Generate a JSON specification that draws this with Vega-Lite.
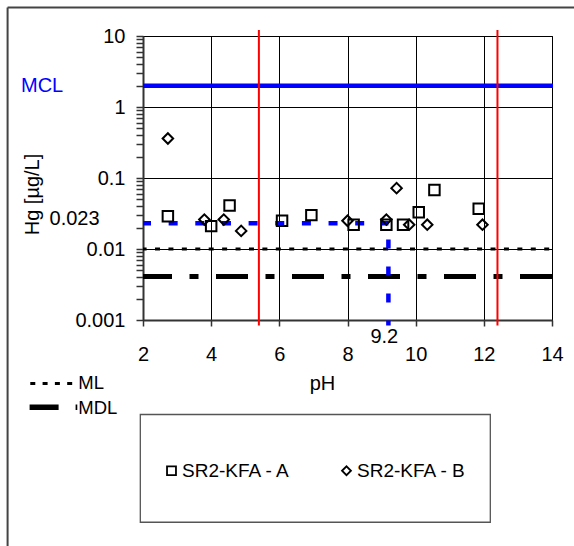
{
  "$schema": "https://vega.github.io/schema/vega-lite/v6.json",
  "width": 409,
  "height": 284,
  "autosize": {"type": "none"},
  "padding": {"left": 143, "top": 36, "right": 22, "bottom": 226},
  "background": "white",
  "config": {
    "font": "Liberation Sans",
    "view": {"stroke": "black", "strokeWidth": 1},
    "axis": {"labelFont": "Liberation Sans", "titleFont": "Liberation Sans"},
    "legend": {"labelFont": "Liberation Sans"}
  },
  "datasets": {
    "hg": [
      {"series": "SR2-KFA - A", "ph": 2.73, "hg": 0.029},
      {"series": "SR2-KFA - A", "ph": 4.0, "hg": 0.021},
      {"series": "SR2-KFA - A", "ph": 4.54, "hg": 0.041},
      {"series": "SR2-KFA - A", "ph": 6.08, "hg": 0.025},
      {"series": "SR2-KFA - A", "ph": 6.94, "hg": 0.030},
      {"series": "SR2-KFA - A", "ph": 8.18, "hg": 0.022},
      {"series": "SR2-KFA - A", "ph": 9.14, "hg": 0.022},
      {"series": "SR2-KFA - A", "ph": 9.63, "hg": 0.022},
      {"series": "SR2-KFA - A", "ph": 10.09, "hg": 0.033},
      {"series": "SR2-KFA - A", "ph": 10.55, "hg": 0.068},
      {"series": "SR2-KFA - A", "ph": 11.85, "hg": 0.037},
      {"series": "SR2-KFA - B", "ph": 2.73, "hg": 0.36},
      {"series": "SR2-KFA - B", "ph": 3.8, "hg": 0.026},
      {"series": "SR2-KFA - B", "ph": 4.37, "hg": 0.026},
      {"series": "SR2-KFA - B", "ph": 4.88, "hg": 0.018},
      {"series": "SR2-KFA - B", "ph": 8.0, "hg": 0.025},
      {"series": "SR2-KFA - B", "ph": 9.14, "hg": 0.026},
      {"series": "SR2-KFA - B", "ph": 9.44, "hg": 0.072},
      {"series": "SR2-KFA - B", "ph": 9.81, "hg": 0.022},
      {"series": "SR2-KFA - B", "ph": 10.34, "hg": 0.022},
      {"series": "SR2-KFA - B", "ph": 11.96, "hg": 0.022}
    ],
    "redlines": [{"ph": 5.4}, {"ph": 12.4}],
    "one": [{}]
  },
  "layer": [
    {
      "data": {"name": "one"},
      "mark": {"type": "rule", "color": "#444444", "strokeWidth": 2},
      "encoding": {
        "x": {"datum": -1.973, "type": "quantitative"},
        "x2": {"datum": 15},
        "y": {"datum": 25.3, "type": "quantitative"}
      }
    },
    {
      "data": {"name": "one"},
      "mark": {"type": "rule", "color": "#444444", "strokeWidth": 2},
      "encoding": {
        "x": {"datum": -1.973, "type": "quantitative"},
        "y": {"datum": 25.3, "type": "quantitative"},
        "y2": {"datum": 1e-7}
      }
    },
    {
      "data": {"name": "one"},
      "mark": {"type": "rect", "fill": null, "fillOpacity": 0, "stroke": "#555555", "strokeWidth": 1.3},
      "encoding": {
        "x": {"datum": 1.921, "type": "quantitative"},
        "x2": {"datum": 12.19},
        "y": {"datum": 0.0000467, "type": "quantitative"},
        "y2": {"datum": 0.000001416}
      }
    },
    {
      "data": {"name": "one"},
      "mark": {"type": "rule", "color": "#0000ff", "strokeWidth": 4.5},
      "encoding": {
        "x": {"datum": 2, "type": "quantitative"},
        "x2": {"datum": 14.03},
        "y": {"datum": 2, "type": "quantitative"}
      }
    },
    {
      "data": {"name": "one"},
      "mark": {"type": "rule", "color": "black", "strokeWidth": 3, "strokeDash": [5, 8.42], "strokeDashOffset": 1.4},
      "encoding": {
        "x": {"datum": 2, "type": "quantitative"},
        "x2": {"datum": 13.97},
        "y": {"datum": 0.01, "type": "quantitative"}
      }
    },
    {
      "data": {"name": "one"},
      "mark": {"type": "rule", "color": "black", "strokeWidth": 5, "strokeDash": [32, 17.5, 9, 17.5], "strokeDashOffset": 3},
      "encoding": {
        "x": {"datum": 2, "type": "quantitative"},
        "x2": {"datum": 14.03},
        "y": {"datum": 0.0041, "type": "quantitative"}
      }
    },
    {
      "data": {"name": "one"},
      "mark": {"type": "rule", "color": "#0000ff", "strokeWidth": 4.5, "strokeDash": [9, 17.65], "strokeDashOffset": 1},
      "encoding": {
        "x": {"datum": 2, "type": "quantitative"},
        "x2": {"datum": 9.2},
        "y": {"datum": 0.023, "type": "quantitative"}
      }
    },
    {
      "data": {"name": "one"},
      "mark": {"type": "rule", "color": "#0000ff", "strokeWidth": 4.5, "strokeDash": [9, 18], "strokeDashOffset": 10.8},
      "encoding": {
        "x": {"datum": 9.2, "type": "quantitative"},
        "y": {"datum": 0.023, "type": "quantitative"},
        "y2": {"datum": 0.00084}
      }
    },
    {
      "data": {"name": "redlines"},
      "mark": {"type": "rule", "color": "#ff0000", "strokeWidth": 2},
      "encoding": {
        "x": {"field": "ph", "type": "quantitative"},
        "y": {"datum": 12.1, "type": "quantitative"},
        "y2": {"datum": 0.00084}
      }
    },
    {
      "data": {"name": "one"},
      "mark": {"type": "rule", "color": "black", "strokeWidth": 3, "strokeDash": [5, 7.3]},
      "encoding": {
        "x": {"datum": -1.307, "type": "quantitative"},
        "x2": {"datum": -0.074},
        "y": {"datum": 0.0001275, "type": "quantitative"}
      }
    },
    {
      "data": {"name": "one"},
      "mark": {"type": "rule", "color": "black", "strokeWidth": 5.5, "strokeDash": [29, 17, 9, 17]},
      "encoding": {
        "x": {"datum": -1.327, "type": "quantitative"},
        "x2": {"datum": 0.072},
        "y": {"datum": 0.0000592, "type": "quantitative"}
      }
    },
    {
      "data": {"values": [
        {"label": "ML", "px": 0.102, "py": 0.000105},
        {"label": "MDL", "px": 0.102, "py": 0.0000467}
      ]},
      "mark": {"type": "text", "align": "left", "baseline": "alphabetic", "fontSize": 18.5, "color": "black"},
      "encoding": {
        "x": {"field": "px", "type": "quantitative"},
        "y": {"field": "py", "type": "quantitative"},
        "text": {"field": "label"}
      }
    },
    {
      "data": {"name": "one"},
      "mark": {"type": "text", "align": "left", "baseline": "alphabetic", "fontSize": 20, "color": "#0000ff", "dy": 6, "text": "MCL"},
      "encoding": {
        "x": {"datum": -1.58, "type": "quantitative"},
        "y": {"datum": 2, "type": "quantitative"}
      }
    },
    {
      "data": {"name": "one"},
      "mark": {"type": "text", "align": "right", "baseline": "alphabetic", "fontSize": 20, "color": "black", "dy": 2, "text": "0.023"},
      "encoding": {
        "x": {"datum": 0.727, "type": "quantitative"},
        "y": {"datum": 0.023, "type": "quantitative"}
      }
    },
    {
      "data": {"name": "one"},
      "mark": {"type": "text", "align": "center", "baseline": "alphabetic", "fontSize": 20, "color": "black", "text": "9.2"},
      "encoding": {
        "x": {"datum": 9.08, "type": "quantitative"},
        "y": {"datum": 0.000476, "type": "quantitative"}
      }
    },
    {
      "data": {"name": "hg"},
      "mark": {"type": "point", "filled": false, "color": "black", "strokeWidth": 2, "size": 110, "opacity": 1},
      "encoding": {
        "x": {
          "field": "ph",
          "type": "quantitative",
          "scale": {"domain": [2, 14], "nice": false, "zero": false},
          "axis": {
            "values": [2, 2.5, 3, 3.5, 4, 4.5, 5, 5.5, 6, 6.5, 7, 7.5, 8, 8.5, 9, 9.5, 10, 10.5, 11, 11.5, 12, 12.5, 13, 13.5, 14],
            "labelExpr": "datum.value % 2 == 0 ? format(datum.value, 'd') : ''",
            "grid": true,
            "gridColor": "black",
            "gridWidth": 1,
            "gridOpacity": {"condition": {"test": "datum.value % 2 == 0", "value": 1}, "value": 0},
            "tickSize": 6,
            "tickColor": "#333333",
            "tickWidth": 1.5,
            "encode": {"ticks": {"update": {"y2": {"signal": "datum.value % 2 == 0 ? 6 : -5"}}}},
            "domainColor": "#333333",
            "domainWidth": 2,
            "labelFontSize": 20,
            "labelColor": "black",
            "labelPadding": 18,
            "labelFlush": false,
            "labelOverlap": false,
            "title": "pH",
            "titleFontSize": 20,
            "titleFontWeight": "normal",
            "titleColor": "black",
            "titleX": 179,
            "titleY": 69,
            "titleAlign": "center",
            "titleBaseline": "alphabetic"
          }
        },
        "y": {
          "field": "hg",
          "type": "quantitative",
          "scale": {"type": "log", "domain": [0.001, 10], "nice": false},
          "axis": {
            "values": [0.001, 0.002, 0.003, 0.004, 0.005, 0.006, 0.007, 0.008, 0.009, 0.01, 0.02, 0.03, 0.04, 0.05, 0.06, 0.07, 0.08, 0.09, 0.1, 0.2, 0.3, 0.4, 0.5, 0.6, 0.7, 0.8, 0.9, 1, 2, 3, 4, 5, 6, 7, 8, 9, 10],
            "labelExpr": "abs(log(datum.value)/LN10 - round(log(datum.value)/LN10)) < 0.000001 ? format(datum.value, '~g') : ''",
            "grid": true,
            "gridColor": "black",
            "gridWidth": 1,
            "gridOpacity": {"condition": {"test": "abs(log(datum.value)/LN10 - round(log(datum.value)/LN10)) < 0.000001", "value": 1}, "value": 0},
            "tickSize": 7,
            "tickColor": "#333333",
            "tickWidth": 1.5,
            "encode": {"ticks": {"update": {"x2": {"signal": "abs(log(datum.value)/LN10 - round(log(datum.value)/LN10)) < 0.000001 ? -7 : 5"}}}},
            "domainColor": "#333333",
            "domainWidth": 2,
            "labelFontSize": 20,
            "labelColor": "black",
            "labelPadding": 11,
            "labelFlush": false,
            "labelOverlap": false,
            "title": "Hg [µg/L]",
            "titleFontSize": 20,
            "titleFontWeight": "normal",
            "titleColor": "black",
            "titleX": -110.5,
            "titleY": 158,
            "titleAngle": 270,
            "titleAlign": "center",
            "titleBaseline": "middle"
          }
        },
        "shape": {
          "field": "series",
          "type": "nominal",
          "scale": {"domain": ["SR2-KFA - A", "SR2-KFA - B"], "range": ["square", "diamond"]},
          "legend": {
            "title": null,
            "orient": "none",
            "legendX": 19,
            "legendY": 425,
            "direction": "horizontal",
            "columns": 2,
            "columnPadding": 46,
            "padding": 0,
            "labelFontSize": 19,
            "labelColor": "black",
            "labelOffset": 1,
            "symbolSize": 80,
            "symbolStrokeWidth": 1.8,
            "symbolStrokeColor": "black",
            "symbolFillColor": "transparent"
          }
        }
      }
    }
  ]
}
